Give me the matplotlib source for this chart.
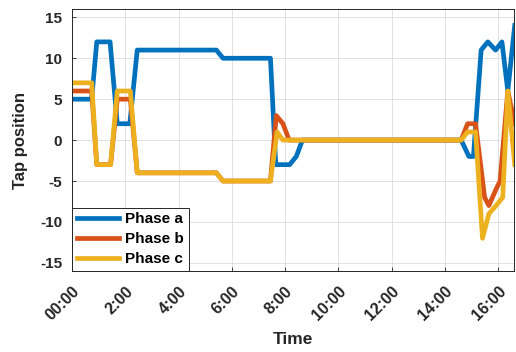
import matplotlib.pyplot as plt

plt.rcParams['font.family'] = ['Liberation Sans', 'DejaVu Sans']

# time in hours, tap positions
t_a = [0, 0.74, 0.93, 1.43, 1.70, 2.17, 2.45, 5.42, 5.67, 7.45, 7.65, 8.17, 8.42, 8.65,
       14.61, 14.9, 15.07, 15.36, 15.61, 15.9, 16.14, 16.36, 16.62]
phase_a = [5, 5, 12, 12, 2, 2, 11, 11, 10, 10, -3, -3, -2, 0,
           0, -2, -2, 11, 12, 11, 12, 6, 14]

t_b = [0, 0.74, 0.93, 1.45, 1.70, 2.19, 2.45, 5.42, 5.67, 7.45, 7.67, 7.92, 8.15,
       14.61, 14.85, 15.15, 15.49, 15.65, 15.92, 16.07, 16.36, 16.62]
phase_b = [6, 6, -3, -3, 5, 5, -4, -4, -5, -5, 3, 2, 0,
           0, 2, 2, -7, -8, -6, -5, 6, 2]

t_c = [0, 0.74, 0.93, 1.45, 1.70, 2.19, 2.45, 5.42, 5.67, 7.45, 7.70, 7.92,
       14.61, 14.85, 15.15, 15.41, 15.65, 15.92, 16.17, 16.36, 16.62]
phase_c = [7, 7, -3, -3, 6, 6, -4, -4, -5, -5, 1, 0,
           0, 1, 1, -12, -9, -8, -7, 6, -3]

xticks = [0, 2, 4, 6, 8, 10, 12, 14, 16]
xlabels = ['00:00', '2:00', '4:00', '6:00', '8:00', '10:00', '12:00', '14:00', '16:00']
yticks = [-15, -10, -5, 0, 5, 10, 15]

fig = plt.figure(figsize=(5.16, 3.52), dpi=100)
ax = fig.add_axes((0.1395, 0.230, 0.857, 0.744))

lw = 3.4
ax.plot(t_a, phase_a, color='#0072BD', lw=lw, label='Phase a')
ax.plot(t_b, phase_b, color='#D95319', lw=lw, label='Phase b')
ax.plot(t_c, phase_c, color='#EDB120', lw=lw, label='Phase c')

ax.set_xlim(0, 16.6)
ax.set_ylim(-16, 16)
ax.set_xticks(xticks)
ax.set_xticklabels(xlabels, rotation=45, ha='right', rotation_mode='anchor',
                   fontsize=11.5, fontweight='bold', color='#262626')
ax.set_yticks(yticks)
ax.set_yticklabels([str(v) for v in yticks], fontsize=11, fontweight='bold', color='#262626')
ax.tick_params(direction='in', length=3, width=0.6, color='#262626')
ax.tick_params(axis='x', pad=9)
ax.tick_params(axis='y', pad=7)
ax.grid(True, color='#dcdcdc', lw=0.6)
for s in ax.spines.values():
    s.set_color('#262626')
    s.set_linewidth(0.7)

ax.set_xlabel('Time', fontsize=12.5, fontweight='bold', color='#262626', labelpad=6)
ax.set_ylabel('Tap position', fontsize=12, fontweight='bold', color='#262626', labelpad=9)

leg = ax.legend(loc='lower left', borderaxespad=0, prop={'weight': 'bold', 'size': 11},
                handlelength=2.8, handletextpad=0.4, labelspacing=0.4,
                borderpad=0.3, fancybox=False, edgecolor='#262626', framealpha=1)
leg.get_frame().set_linewidth(0.7)

fig.savefig('out.png', dpi=100)
